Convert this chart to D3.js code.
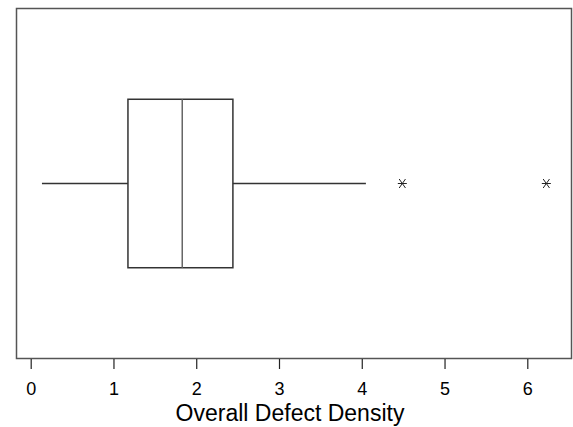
<!DOCTYPE html>
<html>
<head>
<meta charset="utf-8">
<script src="https://cdn.jsdelivr.net/npm/d3@7.9.0/dist/d3.min.js"></script>
<style>
  body { margin: 0; background: #fff; }
  svg { display: block; font-family: "Liberation Sans", Arial, sans-serif; }
</style>
</head>
<body>
<svg id="chart" width="573" height="427"></svg>
<script>
// box plot summary of overall defect density
const boxStats = [{ label: "Overall", whiskerLow: 0.136, q1: 1.175, median: 1.831, q3: 2.443, whiskerHigh: 4.05 }];
const outliers = [4.49, 6.23];
const tickValues = [0, 1, 2, 3, 4, 5, 6];
const axisTitle = "Overall Defect Density";

const svg = d3.select('#chart');

// frame of the plot area
const frame = { left: 16, top: 8, right: 572, bottom: 359 };

const x = d3.scaleLinear()
  .domain([0, 6])
  .range([30.7, 527.3]);

// vertical position: box centred at 1
const y = d3.scaleLinear()
  .domain([0.5, 1.5])
  .range([frame.bottom, frame.top]);

const halfBox = 0.24;

svg.append('rect')
  .attr('x', frame.left + 0.5)
  .attr('y', frame.top + 0.5)
  .attr('width', frame.right - frame.left - 1)
  .attr('height', frame.bottom - frame.top - 1)
  .attr('fill', 'none')
  .attr('stroke', '#555')
  .attr('stroke-width', 1.5);

// x axis below the frame
const xAxis = d3.axisBottom(x)
  .tickValues(tickValues)
  .tickFormat(d3.format('d'))
  .tickSize(10)
  .tickPadding(13);

const axisG = svg.append('g')
  .attr('transform', `translate(0,${frame.bottom})`)
  .call(xAxis);
axisG.select('.domain').remove();
axisG.selectAll('.tick line').attr('stroke', '#222').attr('stroke-width', 1.2);
axisG.selectAll('.tick text')
  .attr('fill', '#000')
  .style('font-size', '18px')
  .style('font-family', '"Liberation Sans", Arial, sans-serif');

svg.append('text')
  .attr('x', 290)
  .attr('y', 421)
  .attr('text-anchor', 'middle')
  .style('font-size', '23px')
  .attr('fill', '#000')
  .text(axisTitle);

// draw box
boxStats.forEach(d => {
  const g = svg.append('g').attr('stroke', '#333').attr('stroke-width', 1.5).attr('fill', 'none');
  const yc = y(1);
  // whiskers
  g.append('line')
    .attr('x1', x(d.whiskerLow)).attr('x2', x(d.q1))
    .attr('y1', yc).attr('y2', yc);
  g.append('line')
    .attr('x1', x(d.q3)).attr('x2', x(d.whiskerHigh))
    .attr('y1', yc).attr('y2', yc);
  g.append('rect')
    .attr('x', x(d.q1))
    .attr('y', y(1 + halfBox))
    .attr('width', x(d.q3) - x(d.q1))
    .attr('height', y(1 - halfBox) - y(1 + halfBox));
  g.append('line')
    .attr('x1', x(d.median)).attr('x2', x(d.median))
    .attr('y1', y(1 + halfBox)).attr('y2', y(1 - halfBox))
    .attr('stroke', '#666');
});

// outliers drawn as asterisks
const star = 4.5;
outliers.forEach(v => {
  const cx = x(v), cy = y(1);
  const g = svg.append('g').attr('stroke', '#222').attr('stroke-width', 1);
  g.append('line').attr('x1', cx - star).attr('x2', cx + star).attr('y1', cy).attr('y2', cy);
  g.append('line').attr('x1', cx - star * 0.7).attr('x2', cx + star * 0.7).attr('y1', cy - star).attr('y2', cy + star);
  g.append('line').attr('x1', cx - star * 0.7).attr('x2', cx + star * 0.7).attr('y1', cy + star).attr('y2', cy - star);
});
</script>
</body>
</html>
